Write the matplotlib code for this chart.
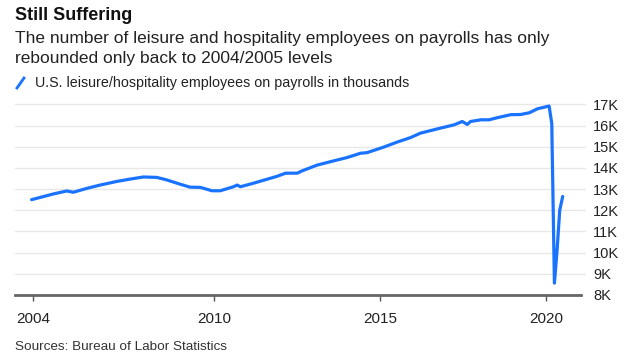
import matplotlib
matplotlib.use("Agg")
import matplotlib.pyplot as plt
from matplotlib.lines import Line2D

# decimal year, thousands of employees
years = [2004.49, 2005.15, 2005.55, 2005.75, 2006.15, 2006.56, 2007.06, 2007.46,
         2007.86, 2008.27, 2008.57, 2008.97, 2009.27, 2009.58, 2009.93, 2010.18,
         2010.58, 2010.69, 2010.79, 2011.19, 2011.89, 2012.15, 2012.50, 2012.65,
         2013.10, 2013.60, 2014.01, 2014.41, 2014.61, 2015.11, 2015.52, 2015.92,
         2016.22, 2016.83, 2017.23, 2017.48, 2017.63, 2017.73, 2018.04, 2018.29,
         2018.54, 2018.94, 2019.24, 2019.50, 2019.75, 2020.05, 2020.10, 2020.18,
         2020.26, 2020.34, 2020.42, 2020.51]
values = [12.50, 12.77, 12.91, 12.85, 13.03, 13.19, 13.36, 13.47,
          13.57, 13.55, 13.43, 13.23, 13.09, 13.08, 12.92, 12.92,
          13.11, 13.19, 13.11, 13.28, 13.60, 13.75, 13.75, 13.86,
          14.13, 14.33, 14.49, 14.69, 14.72, 14.98, 15.22, 15.43,
          15.64, 15.88, 16.03, 16.19, 16.05, 16.19, 16.27, 16.27,
          16.37, 16.51, 16.52, 16.60, 16.79, 16.90, 16.92, 16.10,
          8.56, 10.1, 12.0, 12.65]

tick_pos = [2004.53, 2010, 2015, 2020]
tick_labels = ["2004", "2010", "2015", "2020"]
y_ticks = [8, 9, 10, 11, 12, 13, 14, 15, 16, 17]
y_labels = [f"{v}K" for v in y_ticks]

blue = "#1a73ff"
font = "Liberation Sans"
plt.rcParams["font.family"] = [font, "DejaVu Sans"]

fig = plt.figure(figsize=(6.4, 3.57), dpi=100)
ax = fig.add_axes([0.024, 0.1737, 0.892, 0.540])

ax.plot(years, values, color=blue, lw=2.3, solid_joinstyle="round",
        solid_capstyle="round", zorder=3)

ax.set_xlim(2004.0, 2021.22)
ax.set_ylim(8, 17.1)
ax.set_xticks(tick_pos)
ax.set_xticklabels(tick_labels, fontsize=11, color="#222222")
ax.set_yticks(y_ticks)
ax.set_yticklabels(y_labels, fontsize=10.5, color="#222222")
ax.yaxis.tick_right()
ax.tick_params(axis="y", length=0, pad=5)
ax.tick_params(axis="x", length=4, width=1, color="#555555", pad=8)
ax.grid(axis="y", color="#e8e8e8", lw=1)
ax.set_axisbelow(True)
for s in ["top", "right", "left"]:
    ax.spines[s].set_visible(False)
ax.spines["bottom"].set_color("#666666")
ax.spines["bottom"].set_linewidth(2)
ax.spines["bottom"].set_bounds(2004.0, 2021.05)
ax.spines["bottom"].set_zorder(4)

fig.text(0.024, 1 - 15 / 357, "Still Suffering", fontsize=13, fontweight="bold",
         va="center", ha="left", color="#111111")
fig.text(0.024, 1 - 39 / 357, "The number of leisure and hospitality employees on payrolls has only",
         fontsize=12.5, va="center", ha="left", color="#222222")
fig.text(0.024, 1 - 59 / 357, "rebounded only back to 2004/2005 levels",
         fontsize=12.5, va="center", ha="left", color="#222222")

fig.add_artist(Line2D([17 / 640, 24 / 640], [1 - 88 / 357, 1 - 78 / 357],
                      color=blue, lw=2, transform=fig.transFigure))
fig.text(35 / 640, 1 - 83 / 357, "U.S. leisure/hospitality employees on payrolls in thousands",
         fontsize=10.3, va="center", ha="left", color="#222222")
fig.text(0.024, 1 - 347 / 357, "Sources: Bureau of Labor Statistics", fontsize=9.7,
         va="center", ha="left", color="#333333")

fig.savefig("out.png", dpi=100)
